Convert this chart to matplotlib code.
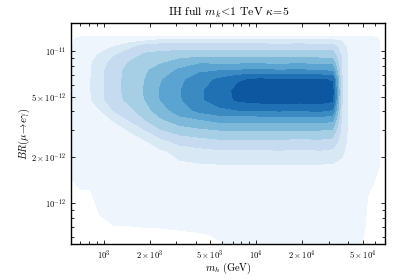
"""Contour map of BR(mu -> e gamma) against m_h, IH full scan."""

import matplotlib

matplotlib.use("Agg")
import matplotlib.pyplot as plt
import matplotlib.ticker as ticker
import numpy as np

plt.rcParams["mathtext.fontset"] = "cm"
plt.rcParams["font.family"] = ["DejaVu Serif"]

# grid nodes (log10 values) and density level
log_mh = [2.77, 2.85, 2.91, 2.98, 3.07, 3.17, 3.27, 3.37, 3.50, 3.63, 3.76, 3.89,
          4.02, 4.15, 4.29, 4.42, 4.50, 4.56, 4.61, 4.69, 4.77, 4.82, 4.86]
log_br = [-10.80, -10.88, -10.91, -10.93, -10.97, -11.03, -11.08, -11.13, -11.19,
          -11.26, -11.32, -11.39, -11.45, -11.52, -11.59, -11.66, -11.75, -11.85,
          -11.95, -12.05, -12.15, -12.21, -12.29]

# one list per m_h column, top row first
density_cols = [
    [0, 0.2, 0.7, 0.85, 0.85, 0.85, 0.85, 0.85, 0.85, 0.85, 0.85, 0.85, 0.85, 0.85, 0.85, 0.85, 0.85, 0.85, 0.4, 0.3, 0.3, 0.3, 0.3],
    [0, 0.3, 1.05, 1.25, 1.3, 1.35, 1.35, 1.35, 1.35, 1.37, 1.35, 1.35, 1.35, 1.35, 1.35, 1.35, 1.35, 1.3, 0.85, 0.6, 0.5, 0.4, 0.4],
    [0, 0.3, 1.05, 1.3, 1.5, 1.7, 1.85, 1.9, 1.92, 1.92, 1.9, 1.75, 1.55, 1.45, 1.4, 1.35, 1.3, 1.2, 0.9, 0.7, 0.5, 0.4, 0.4],
    [0, 0.3, 1.05, 1.3, 1.6, 2.15, 2.6, 2.75, 2.8, 2.8, 2.75, 2.0, 1.7, 1.6, 1.5, 1.45, 1.4, 1.35, 1.25, 1.1, 0.8, 0.6, 0.5],
    [0, 0.3, 1.05, 1.4, 2.0, 2.95, 3.4, 3.6, 3.65, 3.65, 3.6, 3.1, 2.1, 1.7, 1.6, 1.5, 1.45, 1.4, 1.35, 1.25, 1.0, 0.8, 0.6],
    [0, 0.3, 1.05, 1.5, 2.7, 3.6, 4.1, 4.35, 4.4, 4.42, 4.3, 3.75, 3.15, 2.05, 1.7, 1.6, 1.5, 1.45, 1.4, 1.3, 1.0, 0.8, 0.7],
    [0, 0.3, 1.05, 1.8, 3.4, 4.2, 4.5, 4.85, 5.0, 5.08, 5.0, 4.55, 4.0, 2.95, 1.95, 1.7, 1.6, 1.5, 1.45, 1.35, 1.05, 0.8, 0.7],
    [0, 0.3, 1.05, 2.25, 3.5, 4.35, 4.9, 5.5, 5.9, 6.05, 6.0, 5.6, 4.85, 3.9, 2.7, 1.8, 1.65, 1.55, 1.5, 1.4, 1.05, 0.85, 0.75],
    [0, 0.3, 1.05, 2.25, 3.5, 4.6, 5.5, 6.2, 6.8, 6.95, 6.9, 6.5, 5.7, 4.5, 3.45, 2.4, 1.8, 1.6, 1.5, 1.45, 1.1, 0.9, 0.8],
    [0, 0.3, 1.05, 2.25, 3.5, 4.7, 5.9, 6.8, 7.6, 7.85, 7.85, 7.3, 6.0, 4.8, 3.65, 2.7, 1.9, 1.65, 1.55, 1.45, 1.15, 0.95, 0.85],
    [0, 0.3, 1.05, 2.25, 3.5, 4.7, 5.85, 7.0, 8.2, 8.6, 8.5, 7.8, 6.4, 5.0, 3.85, 2.85, 1.95, 1.65, 1.55, 1.45, 1.25, 1.05, 0.95],
    [0, 0.3, 1.05, 2.25, 3.5, 4.7, 5.85, 7.1, 8.9, 9.3, 9.25, 8.0, 6.4, 5.0, 3.83, 2.87, 1.95, 1.65, 1.55, 1.45, 1.3, 1.15, 1.05],
    [0, 0.3, 1.05, 2.25, 3.5, 4.71, 5.86, 7.2, 9.2, 9.6, 9.45, 8.1, 6.4, 5.0, 3.83, 2.87, 1.95, 1.6, 1.5, 1.4, 1.3, 1.2, 1.1],
    [0, 0.3, 1.05, 2.2, 3.45, 4.65, 5.8, 7.1, 9.1, 9.6, 9.5, 8.15, 6.45, 5.05, 3.85, 2.9, 1.95, 1.6, 1.5, 1.4, 1.3, 1.2, 1.1],
    [0, 0.3, 1.05, 2.25, 3.5, 4.7, 5.9, 7.15, 9.05, 9.6, 9.45, 8.1, 6.4, 5.0, 3.8, 2.85, 1.95, 1.6, 1.5, 1.4, 1.3, 1.2, 1.1],
    [0, 0.3, 1.05, 2.2, 3.4, 4.6, 5.75, 7.0, 9.1, 9.6, 9.5, 8.2, 6.5, 5.0, 3.85, 2.9, 1.95, 1.6, 1.5, 1.4, 1.3, 1.2, 1.1],
    [0, 0.3, 1.05, 2.2, 3.4, 4.6, 5.7, 6.9, 8.9, 9.35, 9.25, 7.9, 6.3, 4.9, 3.7, 2.8, 1.9, 1.6, 1.5, 1.4, 1.3, 1.2, 1.1],
    [0, 0.3, 1.05, 1.9, 2.5, 2.9, 3.0, 3.0, 3.1, 3.1, 3.1, 3.0, 2.9, 2.7, 2.5, 2.2, 1.8, 1.55, 1.45, 1.35, 1.3, 1.2, 1.1],
    [0, 0.3, 1.05, 1.4, 1.6, 1.7, 1.7, 1.7, 1.7, 1.7, 1.7, 1.7, 1.7, 1.7, 1.7, 1.6, 1.5, 1.4, 1.35, 1.3, 1.25, 1.15, 1.05],
    [0, 0.3, 1.05, 1.3, 1.4, 1.4, 1.4, 1.4, 1.4, 1.4, 1.4, 1.4, 1.4, 1.4, 1.4, 1.4, 1.35, 1.3, 1.2, 1.15, 1.1, 1.05, 1.0],
    [0, 0.3, 1.05, 1.2, 1.2, 1.2, 1.2, 1.2, 1.2, 1.2, 1.2, 1.2, 1.2, 1.2, 1.2, 1.2, 1.2, 1.05, 0.8, 0.75, 0.75, 0.75, 0.75],
    [0, 0.25, 0.9, 0.95, 0.95, 0.95, 0.95, 0.95, 0.95, 0.95, 0.95, 0.95, 0.95, 0.95, 0.95, 0.95, 0.95, 0.7, 0.6, 0.6, 0.6, 0.6, 0.6],
    [0, 0.2, 0.5, 0.5, 0.5, 0.5, 0.5, 0.5, 0.5, 0.5, 0.5, 0.5, 0.5, 0.5, 0.5, 0.5, 0.5, 0.4, 0.4, 0.4, 0.4, 0.4, 0.4],
]

levels = [1, 2, 3, 4, 5, 6, 7, 8, 9, 11]

x_ticks = [1e3, 2e3, 5e3, 1e4, 2e4, 5e4]
x_labels = [r"$10^{3}$", r"$2\times10^{3}$", r"$5\times10^{3}$",
            r"$10^{4}$", r"$2\times10^{4}$", r"$5\times10^{4}$"]
y_ticks = [1e-12, 2e-12, 5e-12, 1e-11]
y_labels = [r"$10^{-12}$", r"$2\times10^{-12}$", r"$5\times10^{-12}$", r"$10^{-11}$"]

mh = 10.0 ** np.array(log_mh)
br = 10.0 ** np.array(log_br)
Z = np.array(density_cols).T

fig = plt.figure(figsize=(4.07, 2.79), dpi=100)
ax = fig.add_axes([0.1744, 0.1244, 0.7727, 0.7943])

colors = plt.cm.Blues(np.linspace(0.05, 0.85, 9))
ax.contourf(mh, br, Z, levels=levels, colors=colors)

ax.set_xscale("log")
ax.set_yscale("log")
ax.set_xlim(611, 70300)
ax.set_ylim(5.35e-13, 1.535e-11)

ax.xaxis.set_major_locator(ticker.FixedLocator(x_ticks))
ax.xaxis.set_major_formatter(ticker.FixedFormatter(x_labels))
ax.xaxis.set_minor_locator(ticker.LogLocator(base=10, subs=[3, 4, 6, 7, 8, 9], numticks=20))
ax.xaxis.set_minor_formatter(ticker.NullFormatter())
ax.yaxis.set_major_locator(ticker.FixedLocator(y_ticks))
ax.yaxis.set_major_formatter(ticker.FixedFormatter(y_labels))
ax.yaxis.set_minor_locator(ticker.LogLocator(base=10, subs=[3, 4, 6, 7, 8, 9], numticks=20))
ax.yaxis.set_minor_formatter(ticker.NullFormatter())

ax.tick_params(which="both", direction="in", top=True, right=True, width=0.6,
               labelsize=6.2, pad=3.5)
ax.tick_params(which="major", length=3)
ax.tick_params(which="minor", length=2)
for sp in ax.spines.values():
    sp.set_linewidth(1.0)

ax.set_title(r"$\mathrm{IH\ full\ }m_k\!<\!1\ \mathrm{TeV}\ \kappa\!=\!5$", fontsize=8.5, pad=5)
ax.set_xlabel(r"$m_h\ \mathrm{(GeV)}$", fontsize=7.5)
ax.set_ylabel(r"$BR(\mu\!\rightarrow\! e\gamma)$", fontsize=7.5)
ax.xaxis.set_label_coords(0.5, -0.075)
ax.yaxis.set_label_coords(-0.125, 0.5)

fig.savefig("out.png", dpi=100)
